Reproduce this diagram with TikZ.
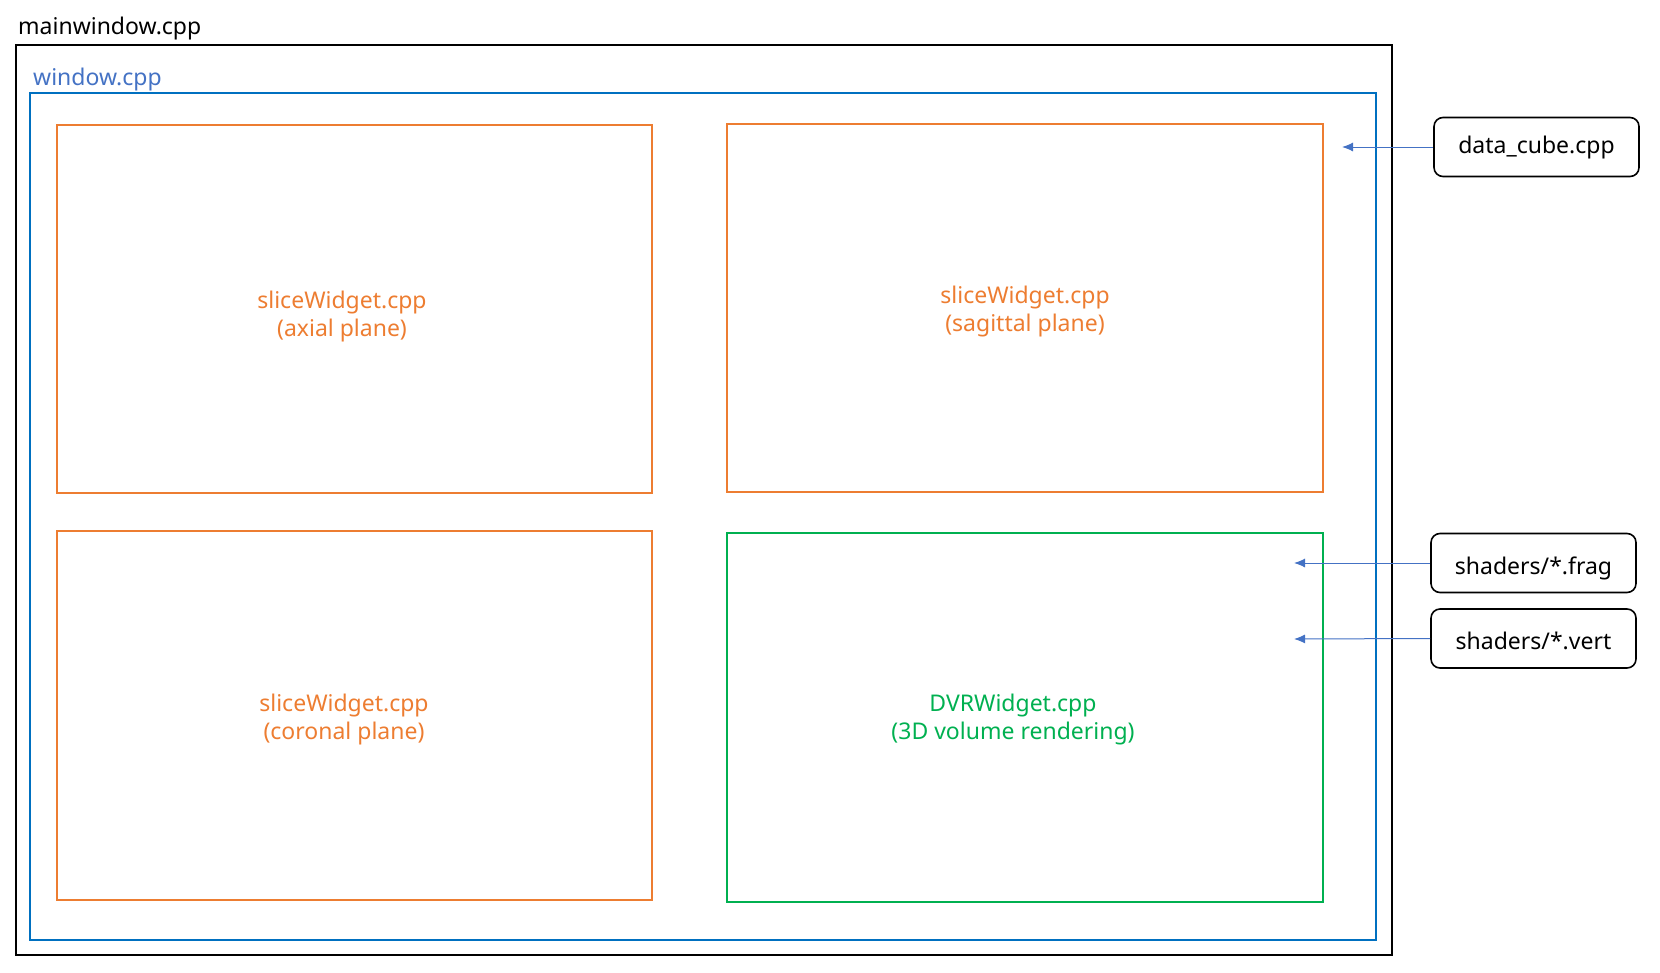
\documentclass[tikz,border=0pt]{standalone}
\usepackage{fontspec}
\setmainfont{Noto Sans}
\usetikzlibrary{arrows.meta}
\definecolor{boxorange}{HTML}{ED7D31}
\definecolor{boxblue}{HTML}{0070C0}
\definecolor{txtblue}{HTML}{4472C4}
\definecolor{boxgreen}{HTML}{00B050}
\tikzset{
  frame/.style={draw, line width=2pt, inner sep=0pt, anchor=north west},
  widget/.style={frame, draw=boxorange},
  dvr/.style={frame, draw=boxgreen},
  wtext/.style={align=center, font=\fontsize{23}{27.5}\selectfont, inner sep=0pt},
  lbl/.style={anchor=base west, inner sep=0pt, font=\fontsize{23}{27}\selectfont},
  src/.style={draw, line width=1.6pt, rounded corners=9pt, minimum width=205pt, minimum height=59pt, inner sep=0pt, font=\fontsize{23}{27}\selectfont, text height=17pt, text depth=4.6pt},
  srclow/.style={src, text height=24pt, text depth=1.6pt},
  feed/.style={draw=txtblue, line width=1pt, -{Latex[length=11pt,width=9pt]}},
}
\begin{document}
\begin{tikzpicture}[x=1pt,y=-1pt]
\useasboundingbox (0,0) rectangle (1660,972);
% outer mainwindow
\node[frame, minimum width=1376pt, minimum height=910pt] (main) at (15,44) {};
\node[lbl] (mainlbl) at (18,34.5) {mainwindow.cpp};
% window
\node[frame, draw=boxblue, minimum width=1346pt, minimum height=847pt] (win) at (29,92) {};
\node[lbl, text=txtblue] (winlbl) at (33,85.5) {window.cpp};
% widgets
\node[widget, minimum width=595pt, minimum height=368pt] (axial) at (56,124) {};
\node[wtext, text=boxorange] (axialt) at (342,316.5) {sliceWidget.cpp\\(axial plane)};
\node[widget, minimum width=596pt, minimum height=368pt] (sag) at (726,123) {};
\node[wtext, text=boxorange] (sagt) at (1025,311.5) {sliceWidget.cpp\\(sagittal plane)};
\node[widget, minimum width=595pt, minimum height=369pt] (cor) at (56,530) {};
\node[wtext, text=boxorange] (cort) at (344,719.5) {sliceWidget.cpp\\(coronal plane)};
\node[dvr, minimum width=596pt, minimum height=369pt] (dvrb) at (726,532) {};
\node[wtext, text=boxgreen] (dvrt) at (1013,719.5) {DVRWidget.cpp\\(3D volume rendering)};
% sources
\node[src] (cube) at (1536.5,147) {data\_cube.cpp};
\node[srclow] (frag) at (1533.5,563) {shaders/*.frag};
\node[srclow] (vert) at (1533.5,638.5) {shaders/*.vert};
\coordinate (cubeend) at (1342,147);
\coordinate (fragend) at (1294,563);
\coordinate (vertend) at (1294,639);
\draw[feed] (cube.west) -- (cubeend);
\draw[feed] (frag.west) -- (fragend);
\draw[feed] (vert.west) -- (vertend);
\end{tikzpicture}
\end{document}
